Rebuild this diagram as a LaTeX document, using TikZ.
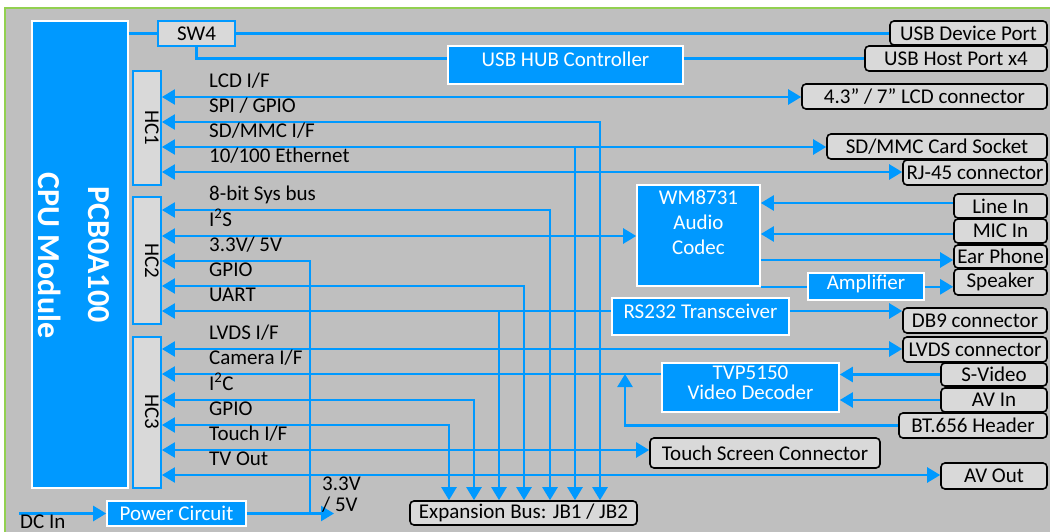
\documentclass[tikz,border=0pt]{standalone}
\usepackage{fontspec}
\setmainfont{Carlito}
\usetikzlibrary{arrows.meta}

\definecolor{bgray}{HTML}{BFBFBF}
\definecolor{lgray}{HTML}{D9D9D9}
\definecolor{cblue}{HTML}{0099FF}
\definecolor{lgreen}{HTML}{92D050}

\tikzset{
  every node/.style={font=\fontsize{21}{25}\selectfont},
  >={Triangle[length=13pt,width=15pt]},
  wire/.style={draw=cblue, line width=2.4pt},
  port/.style={draw=black, line width=1.6pt, rounded corners=4pt, fill=lgray, inner sep=0pt},
  blk/.style={draw=white, line width=1.6pt, fill=cblue, inner sep=0pt},
  wtxt/.style={text=white, align=center, inner sep=0pt},
  hcb/.style={draw=cblue, line width=1.8pt, fill=lgray, inner sep=0pt},
  lbl/.style={anchor=base west, inner sep=0pt},
}

\begin{document}
\begin{tikzpicture}[x=1pt, y=-1pt]
  \useasboundingbox (0,0) rectangle (1050,532);
  \fill[bgray] (5,8) rectangle (1050,532);
  \draw[lgreen, line width=1.5pt] (5,532) -- (5,8) -- (1050,8);

  % CPU module and header connectors
  \node[blk, minimum width=96, minimum height=467] (cpu) at (80,254.5) {};
  \node[text=white, rotate=-90, anchor=base, font=\fontsize{32}{36}\selectfont\bfseries] (cpuname) at (88,254.5) {PCB0A100};
  \node[text=white, rotate=-90, anchor=base, font=\fontsize{32}{36}\selectfont\bfseries] (cpumod) at (38,255.5) {CPU Module};

  \node[hcb, minimum width=28, minimum height=114] (hc1) at (147,128) {};
  \node[hcb, minimum width=28, minimum height=127] (hc2) at (147,260.5) {};
  \node[hcb, minimum width=28, minimum height=151] (hc3) at (147,412.5) {};
  \foreach \n/\y in {1/127.5, 2/260.5, 3/411.5}
    \node[rotate=-90, anchor=base, inner sep=0pt] (hct\n) at (145,\y) {HC\n};

  \node[hcb, minimum width=77, minimum height=25] (sw4) at (196.5,33.5) {SW4};

  % blue function blocks
  \node[blk, minimum width=235, minimum height=38] (hub) at (565.5,65) {};
  \node[wtxt] (hubtxt) at ([yshift=6]hub.center) {USB HUB Controller};
  \node[blk, minimum width=123, minimum height=101] (codec) at (698.5,235.5) {};
  \node[wtxt] (codectxt) at ([yshift=13]codec.center) {WM8731\\Audio\\Codec};
  \node[blk, minimum width=116, minimum height=27] (amp) at (866,286.5) {};
  \node[wtxt] (amptxt) at ([yshift=3]amp.center) {Amplifier};
  \node[blk, minimum width=177, minimum height=37] (rs) at (700.5,316.5) {};
  \node[wtxt] (rstxt) at ([yshift=5]rs.center) {RS232 Transceiver};
  \node[blk, minimum width=177, minimum height=49] (tvp) at (750.5,387.5) {};
  \node[wtxt] (tvptxt) at ([yshift=5]tvp.center) {TVP5150\\[-5pt]Video Decoder};
  \node[blk, minimum width=139, minimum height=25] (pwr) at (176.5,513.5) {};
  \node[wtxt] (pwrtxt) at (pwr.center) {Power Circuit};

  % connectors on the board edge
  \node[port, minimum width=157, minimum height=24] (usbdev) at (968.5,33) {USB Device Port};
  \node[port, minimum width=182, minimum height=25] (usbhost) at (956,58.5) {USB Host Port x4};
  \node[port, minimum width=245, minimum height=25] (lcd) at (924.5,96.5) {4.3” / 7” LCD connector};
  \node[port, minimum width=220, minimum height=25] (sdcard) at (937,146.5) {SD/MMC Card Socket};
  \node[port, minimum width=144, minimum height=25] (rj45) at (975,172.5) {RJ-45 connector};
  \node[port, minimum width=93, minimum height=24] (linein) at (1000.5,206) {Line In};
  \node[port, minimum width=93, minimum height=24] (micin) at (1000.5,231) {MIC In};
  \node[port, minimum width=93, minimum height=23] (earph) at (1000.5,256.5) {Ear Phone};
  \node[port, minimum width=93, minimum height=26] (speaker) at (1000.5,282) {Speaker};
  \node[port, minimum width=144, minimum height=25] (db9) at (975,320.5) {DB9 connector};
  \node[port, minimum width=144, minimum height=25] (lvdsc) at (975,349.5) {LVDS connector};
  \node[port, minimum width=106, minimum height=23] (svideo) at (994,374.5) {S-Video};
  \node[port, minimum width=106, minimum height=24] (avin) at (994,400) {AV In};
  \node[port, minimum width=148, minimum height=25] (bt656) at (973,425.5) {BT.656 Header};
  \node[port, minimum width=230, minimum height=30] (touch) at (765,453) {Touch Screen Connector};
  \node[port, minimum width=106, minimum height=26] (avout) at (994,476) {AV Out};
  \node[port, minimum width=227, minimum height=24] (expbus) at (523.5,513) {Expansion Bus: JB1 / JB2};

  \coordinate (dcin) at (19,513.5);
  \coordinate (pwrtap) at (310,513.5);
  \coordinate (pwrout) at (334,513.5);

  % USB
  \draw[wire] (cpu.east |- sw4) -- (sw4.west);
  \draw[wire] (sw4.east) -- (sw4.east -| usbdev.west);
  \draw[wire] (sw4.south) |- (hub.west |- usbhost);
  \draw[wire] (hub.east |- usbhost) -- (usbhost.west);

  % HC1
  \draw[wire,<->] (hc1.east |- 0,97) -- (lcd.west |- 0,97);
  \draw[wire,<->] (hc1.east |- 0,122) -| (600,0 |- expbus.north);
  \draw[wire,<->] (hc1.east |- 0,147) -- (sdcard.west |- 0,147);
  \draw[wire,->] (575,147) -- (575,0 |- expbus.north);
  \draw[wire,<->] (hc1.east |- 0,172) -- (rj45.west |- 0,172);

  % HC2
  \draw[wire,<->] (hc2.east |- 0,210) -| (550,0 |- expbus.north);
  \draw[wire,<->] (hc2.east |- 0,236) -- (codec.west |- 0,236);
  \draw[wire,<-] (hc2.east |- 0,261) -| (pwrtap);
  \draw[wire,<->] (hc2.east |- 0,286) -| (524,0 |- expbus.north);
  \draw[wire,<-] (hc2.east |- 0,311) -- (rs.west |- 0,311);
  \draw[wire,->] (499,311) -- (499,0 |- expbus.north);
  \draw[wire,->] (rs.east |- 0,311) -- (db9.west |- 0,311);

  % HC3
  \draw[wire,<->] (hc3.east |- 0,349) -- (lvdsc.west |- 0,349);
  \draw[wire,<-] (hc3.east |- 0,374) -- (tvp.west |- 0,374);
  \draw[wire,->] (bt656.west) -| (625,374);
  \draw[wire,<->] (hc3.east |- 0,400) -| (474,0 |- expbus.north);
  \draw[wire,<->] (hc3.east |- 0,425) -| (449,0 |- expbus.north);
  \draw[wire,<->] (hc3.east |- 0,450) -- (touch.west |- 0,450);
  \draw[wire,<->] (hc3.east |- 0,475) -- (avout.west |- 0,475);

  % audio and video
  \draw[wire,<-] (codec.east |- 0,203) -- (linein.west |- 0,203);
  \draw[wire,<-] (codec.east |- 0,234) -- (micin.west |- 0,234);
  \draw[wire,->] (codec.east |- 0,260) -- (earph.west |- 0,260);
  \draw[wire] (codec.south east) -- (amp.west |- codec.south east);
  \draw[wire,->] (amp.east |- codec.south east) -- (speaker.west |- codec.south east);
  \draw[wire,<-] (tvp.east |- svideo) -- (svideo.west);
  \draw[wire,<-] (tvp.east |- avin) -- (avin.west);

  % power
  \draw[wire,->] (dcin) -- (pwr.west);
  \draw[wire,->] (pwr.east) -- (pwrout);

  % signal names
  \foreach \y/\t in {97/{LCD I/F}, 122/{SPI / GPIO}, 147/{SD/MMC I/F}, 172/{10/100 Ethernet},
                     210/{8-bit Sys bus}, 236/{I\textsuperscript{2}S}, 261/{3.3V/ 5V}, 286/GPIO, 311/UART,
                     349/{LVDS I/F}, 374/{Camera I/F}, 400/{I\textsuperscript{2}C}, 425/GPIO, 450/{Touch I/F}, 475/{TV Out}}
    \node[lbl] (lab\y) at (209,\y-9.5) {\t};
  \node[lbl, align=left, font=\fontsize{21}{21}\selectfont] (pwrlab) at (322,511) {3.3V\\/ 5V};
  \node[lbl] (dclab) at (20,528) {DC In};
\end{tikzpicture}
\end{document}
